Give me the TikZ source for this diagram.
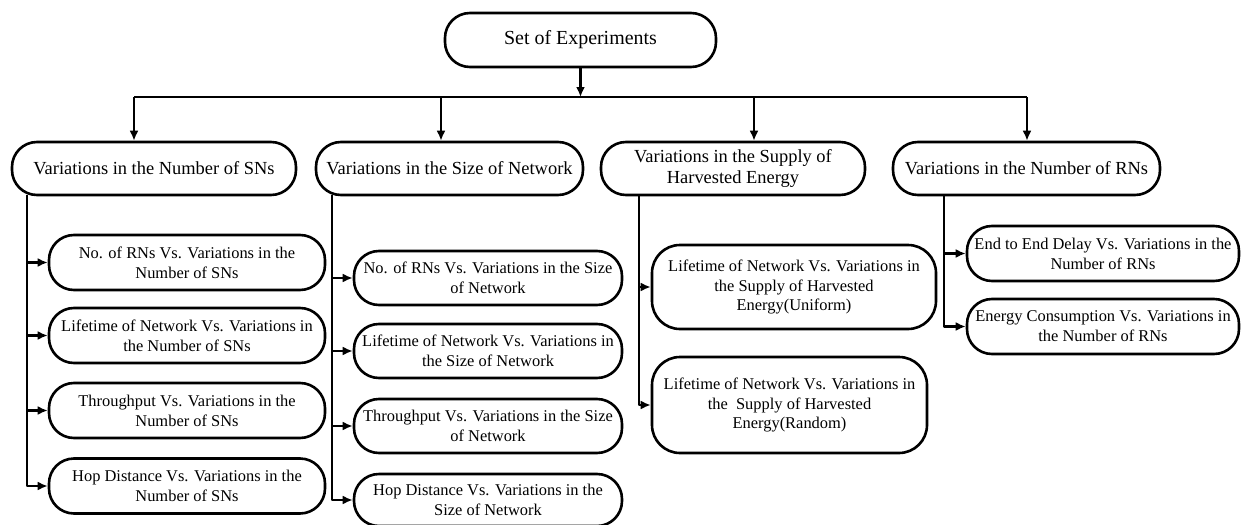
\documentclass[tikz,border=0pt]{standalone}
\usepackage{fontspec}
\setmainfont{Liberation Serif}
\usetikzlibrary{arrows.meta}
\tikzset{
  expbox/.style={draw,rectangle,rounded corners=25bp,align=center,inner sep=1bp},
  topbox/.style={expbox,minimum height=53bp,font=\fontsize{18.5}{22}\selectfont},
  subbox/.style={expbox,minimum height=55bp,font=\fontsize{16.5}{20}\selectfont},
}
\begin{document}
\begin{tikzpicture}[>={Latex[length=10bp,width=9bp]},line join=bevel,line width=2.6bp]
\useasboundingbox (0bp,0bp) rectangle (1242bp,-525bp);
%%
  \node (exp) at (580.5bp,-40bp) [expbox,minimum width=271bp,minimum height=54bp,font=\fontsize{20}{24}\selectfont] {Set of Experiments};
  \node (snvar) at (154bp,-168.5bp) [topbox,minimum width=284bp] {Variations in the Number of SNs};
  \node (sizevar) at (449.5bp,-168.5bp) [topbox,minimum width=267bp] {Variations in the Size of Network};
  \node (supplyvar) at (733bp,-168.5bp) [topbox,minimum width=264bp] {Variations in the Supply of\\Harvested Energy};
  \node (rnvar) at (1026.5bp,-168.5bp) [topbox,minimum width=267bp] {Variations in the Number of RNs};
  \node (sn1) at (187bp,-262.5bp) [subbox,minimum width=276bp] {No. of RNs Vs. Variations in the\\Number of SNs};
  \node (sn2) at (187bp,-335.5bp) [subbox,minimum width=276bp] {Lifetime of Network Vs. Variations in\\the Number of SNs};
  \node (sn3) at (187bp,-410.5bp) [subbox,minimum width=276bp] {Throughput Vs. Variations in the\\Number of SNs};
  \node (sn4) at (187bp,-486bp) [subbox,minimum width=276bp] {Hop Distance Vs. Variations in the\\Number of SNs};
  \node (sz1) at (488bp,-278bp) [subbox,minimum width=268bp,minimum height=54bp] {No. of RNs Vs. Variations in the Size\\of Network};
  \node (sz2) at (488bp,-351bp) [subbox,minimum width=268bp,minimum height=54bp] {Lifetime of Network Vs. Variations in\\the Size of Network};
  \node (sz3) at (488bp,-426bp) [subbox,minimum width=268bp,minimum height=54bp] {Throughput Vs. Variations in the Size\\of Network};
  \node (sz4) at (488bp,-500bp) [subbox,minimum width=268bp,minimum height=52bp] {Hop Distance Vs. Variations in the\\Size of Network};
  \node (sp1) at (794bp,-287bp) [subbox,minimum width=284bp,minimum height=84bp,rounded corners=28bp] {Lifetime of Network Vs. Variations in\\the Supply of Harvested\\Energy(Uniform)};
  \node (sp2) at (789.5bp,-405bp) [subbox,minimum width=275bp,minimum height=96bp,rounded corners=28bp] {Lifetime of Network Vs. Variations in\\the\ \ Supply of Harvested\\Energy(Random)};
  \node (rn1) at (1103bp,-253.5bp) [subbox,minimum width=272bp] {End to End Delay Vs. Variations in the\\Number of RNs};
  \node (rn2) at (1103bp,-326.5bp) [subbox,minimum width=272bp] {Energy Consumption Vs. Variations in\\the Number of RNs};
%% bus
  \coordinate (bus) at (580.5bp,-97bp);
  \coordinate (c1) at (134bp,-97bp);
  \coordinate (c2) at (441bp,-97bp);
  \coordinate (c3) at (754bp,-97bp);
  \coordinate (c4) at (1027bp,-97bp);
  \draw [->] (exp) -- (bus);
  \draw (c1) -- (c4);
  \draw [->] (c1) -- (c1 |- snvar.north);
  \draw [->] (c2) -- (c2 |- sizevar.north);
  \draw [->] (c3) -- (c3 |- supplyvar.north);
  \draw [->] (c4) -- (c4 |- rnvar.north);
%% trunks
  \coordinate (t1) at (27bp,-195bp);
  \coordinate (t2) at (332bp,-195bp);
  \coordinate (t3) at (639bp,-195bp);
  \coordinate (t4) at (944bp,-195bp);
  \draw [->] (t1) |- (sn1);
  \draw [->] (t1) |- (sn2);
  \draw [->] (t1) |- (sn3);
  \draw [->] (t1) |- (sn4);
  \draw [->] (t2) |- (sz1);
  \draw [->] (t2) |- (sz2);
  \draw [->] (t2) |- (sz3);
  \draw [->] (t2) |- (sz4);
  \draw [->] (t3) |- (sp1);
  \draw [->] (t3) |- (sp2);
  \draw [->] (t4) |- (rn1);
  \draw [->] (t4) |- (rn2);
%
\end{tikzpicture}
\end{document}
